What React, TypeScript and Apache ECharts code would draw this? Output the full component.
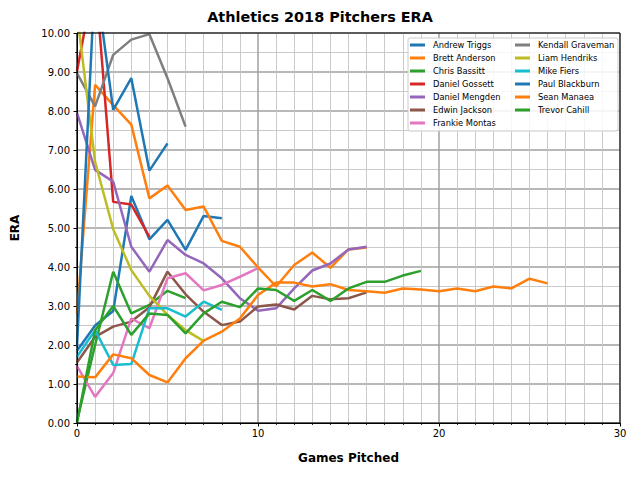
import React, { useEffect, useRef } from "react";
import * as echarts from "echarts";

const pitcherNames = [
  "Andrew Triggs",
  "Brett Anderson",
  "Chris Bassitt",
  "Daniel Gossett",
  "Daniel Mengden",
  "Edwin Jackson",
  "Frankie Montas",
  "Kendall Graveman",
  "Liam Hendriks",
  "Mike Fiers",
  "Paul Blackburn",
  "Sean Manaea",
  "Trevor Cahill",
];

const andrewTriggs = [1.85, 2.5, 2.87, 5.82, 4.71, 5.21, 4.44, 5.31, 5.25];
const brettAnderson = [2.82, 8.67, 8.15, 7.65, 5.76, 6.09, 5.46, 5.55, 4.67, 4.52, 3.99, 3.5, 4.05, 4.37, 3.98, 4.45, 4.5];
const chrisBassitt = [0.05, 2.0, 3.88, 2.81, 3.03, 3.39, 3.2];
const danielGossett = [9.02, 11.5, 5.67, 5.6, 4.77];
const danielMengden = [7.95, 6.49, 6.19, 4.52, 3.88, 4.69, 4.31, 4.09, 3.71, 3.2, 2.88, 2.94, 3.45, 3.91, 4.09, 4.45, 4.52];
const edwinJackson = [1.55, 2.21, 2.47, 2.6, 2.97, 3.88, 3.3, 2.85, 2.51, 2.6, 2.99, 3.04, 2.91, 3.26, 3.17, 3.2, 3.35];
const frankieMontas = [1.46, 0.67, 1.28, 2.68, 2.43, 3.71, 3.84, 3.4, 3.54, 3.75, 3.97];
const kendallGraveman = [8.97, 8.12, 9.44, 9.83, 9.97, 8.84, 7.6];
const liamHendriks = [10.5, 6.7, 4.97, 3.92, 3.26, 2.77, 2.38, 2.1];
const mikeFiers = [1.7, 2.38, 1.49, 1.51, 2.94, 2.94, 2.73, 3.11, 2.9];
const paulBlackburn = [1.96, 11.5, 8.03, 8.84, 6.47, 7.17];
const seanManaea = [1.19, 1.17, 1.76, 1.66, 1.23, 1.04, 1.66, 2.11, 2.34, 2.68, 3.28, 3.6, 3.6, 3.5, 3.56, 3.41, 3.38, 3.34, 3.45, 3.42, 3.38, 3.45, 3.38, 3.5, 3.45, 3.7, 3.58];
const trevorCahill = [0.0, 2.38, 3.0, 2.26, 2.81, 2.77, 2.3, 2.81, 3.11, 2.97, 3.45, 3.41, 3.13, 3.41, 3.13, 3.45, 3.62, 3.62, 3.78, 3.9];

const seriesValues = [
  andrewTriggs,
  brettAnderson,
  chrisBassitt,
  danielGossett,
  danielMengden,
  edwinJackson,
  frankieMontas,
  kendallGraveman,
  liamHendriks,
  mikeFiers,
  paulBlackburn,
  seanManaea,
  trevorCahill,
];

const palette = [
  "#1f77b4",
  "#ff7f0e",
  "#2ca02c",
  "#d62728",
  "#9467bd",
  "#8c564b",
  "#e377c2",
  "#7f7f7f",
  "#bcbd22",
  "#17becf",
];

const FONT = "DejaVu Sans";

export default function App() {
  const ref = useRef<HTMLDivElement>(null);

  useEffect(() => {
    if (!ref.current) return;
    const chart = echarts.init(ref.current, null, { renderer: "svg" });

    const series = pitcherNames.map((name, i) => ({
      name,
      type: "line",
      data: seriesValues[i].map((v, g) => [g, v]),
      showSymbol: false,
      symbol: "none",
      clip: true,
      color: palette[i % palette.length],
      lineStyle: { width: 2.5, color: palette[i % palette.length] },
      z: 2,
    }));

    const legendBase = {
      orient: "vertical",
      top: 40,
      itemWidth: 15,
      itemHeight: 3,
      itemGap: 3,
      icon: "rect",
      padding: 0,
      selectedMode: false,
      z: 20,
      textStyle: {
        fontSize: 8.3,
        color: "#000",
        lineHeight: 10,
        fontFamily: FONT,
        padding: [0, 0, 0, 3],
      },
    };

    const option = {
      animation: false,
      textStyle: { fontFamily: FONT },
      grid: { left: 77, right: 20, top: 33, bottom: 57, containLabel: false },
      xAxis: {
        type: "value",
        min: 0,
        max: 30,
        interval: 10,
        axisLine: { show: true, onZero: false, lineStyle: { color: "#000", width: 1 } },
        axisTick: { show: true, length: 3.5, lineStyle: { color: "#000", width: 1 } },
        minorTick: { show: true, splitNumber: 10, length: 2, lineStyle: { color: "#000", width: 0.8 } },
        axisLabel: { fontSize: 10, color: "#000", margin: 5, fontFamily: FONT },
        splitLine: { show: true, lineStyle: { color: "#a0a0a0", width: 1.5 } },
        minorSplitLine: { show: true, lineStyle: { color: "#c4c4c4", width: 0.9 } },
      },
      yAxis: {
        type: "value",
        min: 0,
        max: 10,
        interval: 1,
        axisLine: { show: true, onZero: false, lineStyle: { color: "#000", width: 1 } },
        axisTick: { show: true, length: 3.5, lineStyle: { color: "#000", width: 1 } },
        minorTick: { show: true, splitNumber: 2, length: 2, lineStyle: { color: "#000", width: 0.8 } },
        axisLabel: {
          fontSize: 10,
          color: "#000",
          margin: 7,
          fontFamily: FONT,
          formatter: (v: number) => v.toFixed(2),
        },
        splitLine: { show: true, lineStyle: { color: "#a0a0a0", width: 1.5 } },
        minorSplitLine: { show: true, lineStyle: { color: "#c4c4c4", width: 0.9 } },
      },
      legend: [
        { ...legendBase, left: 410, data: pitcherNames.slice(0, 7) },
        { ...legendBase, left: 515, data: pitcherNames.slice(7) },
      ],
      graphic: [
        {
          type: "rect",
          z: 10,
          silent: true,
          shape: { x: 408, y: 38, width: 210, height: 93, r: 2 },
          style: { fill: "rgba(255,255,255,0.85)", stroke: "#cccccc", lineWidth: 1 },
        },
        {
          type: "rect",
          z: 5,
          silent: true,
          shape: { x: 77, y: 33, width: 543, height: 390 },
          style: { fill: "none", stroke: "#000", lineWidth: 1 },
        },
        {
          type: "text",
          x: 320,
          y: 17,
          z: 10,
          style: {
            text: "Athletics 2018 Pitchers ERA",
            font: `bold 14.4px "${FONT}"`,
            fill: "#000",
            align: "center",
            verticalAlign: "middle",
          },
        },
        {
          type: "text",
          x: 348.5,
          y: 458,
          z: 10,
          style: {
            text: "Games Pitched",
            font: `bold 12px "${FONT}"`,
            fill: "#000",
            align: "center",
            verticalAlign: "middle",
          },
        },
        {
          type: "text",
          x: 15,
          y: 228,
          rotation: Math.PI / 2,
          z: 10,
          style: {
            text: "ERA",
            font: `bold 12px "${FONT}"`,
            fill: "#000",
            align: "center",
            verticalAlign: "middle",
          },
        },
      ],
      series,
    };

    chart.setOption(option as any);
    return () => {
      chart.dispose();
    };
  }, []);

  return (
    <div
      ref={ref}
      style={{ position: "absolute", left: 0, top: 0, width: 640, height: 480, background: "#fff" }}
    />
  );
}
